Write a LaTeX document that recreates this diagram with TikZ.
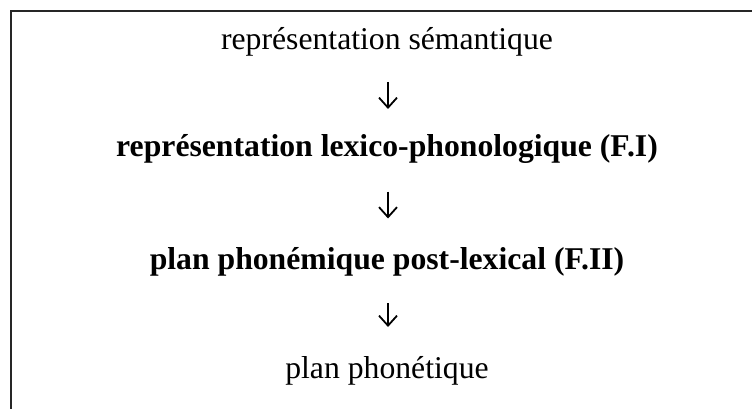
\documentclass[tikz,border=0pt]{standalone}
\usepackage{fontspec}
\setmainfont{Liberation Serif}
\usetikzlibrary{arrows.meta,calc}
\tikzset{
  lvl/.style={inner sep=0pt, anchor=base, text height=22pt, text depth=7pt,
    font=\fontsize{31.7}{38}\selectfont},
  lvlbold/.style={lvl, font=\fontsize{31.7}{38}\selectfont\bfseries},
  arr/.style={line width=1.8pt, -{Straight Barb[length=10pt,width=18pt,line width=1.8pt]}},
  frame/.style={line width=2.6pt, color=black!85}
}
\begin{document}
\begin{tikzpicture}[x=1pt,y=-1pt]
\useasboundingbox (0,0) rectangle (752,409);
\draw[frame] (752,11) -- (11,11) -- (11,409);
\node[lvl] (a) at (387,50) {représentation sémantique};
\node[lvlbold] (b) at (387,157) {représentation lexico-phonologique (F.I)};
\node[lvlbold] (c) at (387,269) {plan phonémique post-lexical (F.II)};
\node[lvl] (d) at (387,378) {plan phonétique};
\draw[arr] ($(a.south)!.5!(b.north)+(1,-14)$) -- ($(a.south)!.5!(b.north)+(1,13)$);
\draw[arr] ($(b.south)!.5!(c.north)+(1,-14)$) -- ($(b.south)!.5!(c.north)+(1,13)$);
\draw[arr] ($(c.south)!.5!(d.north)+(1,-13)$) -- ($(c.south)!.5!(d.north)+(1,11)$);
\end{tikzpicture}
\end{document}
